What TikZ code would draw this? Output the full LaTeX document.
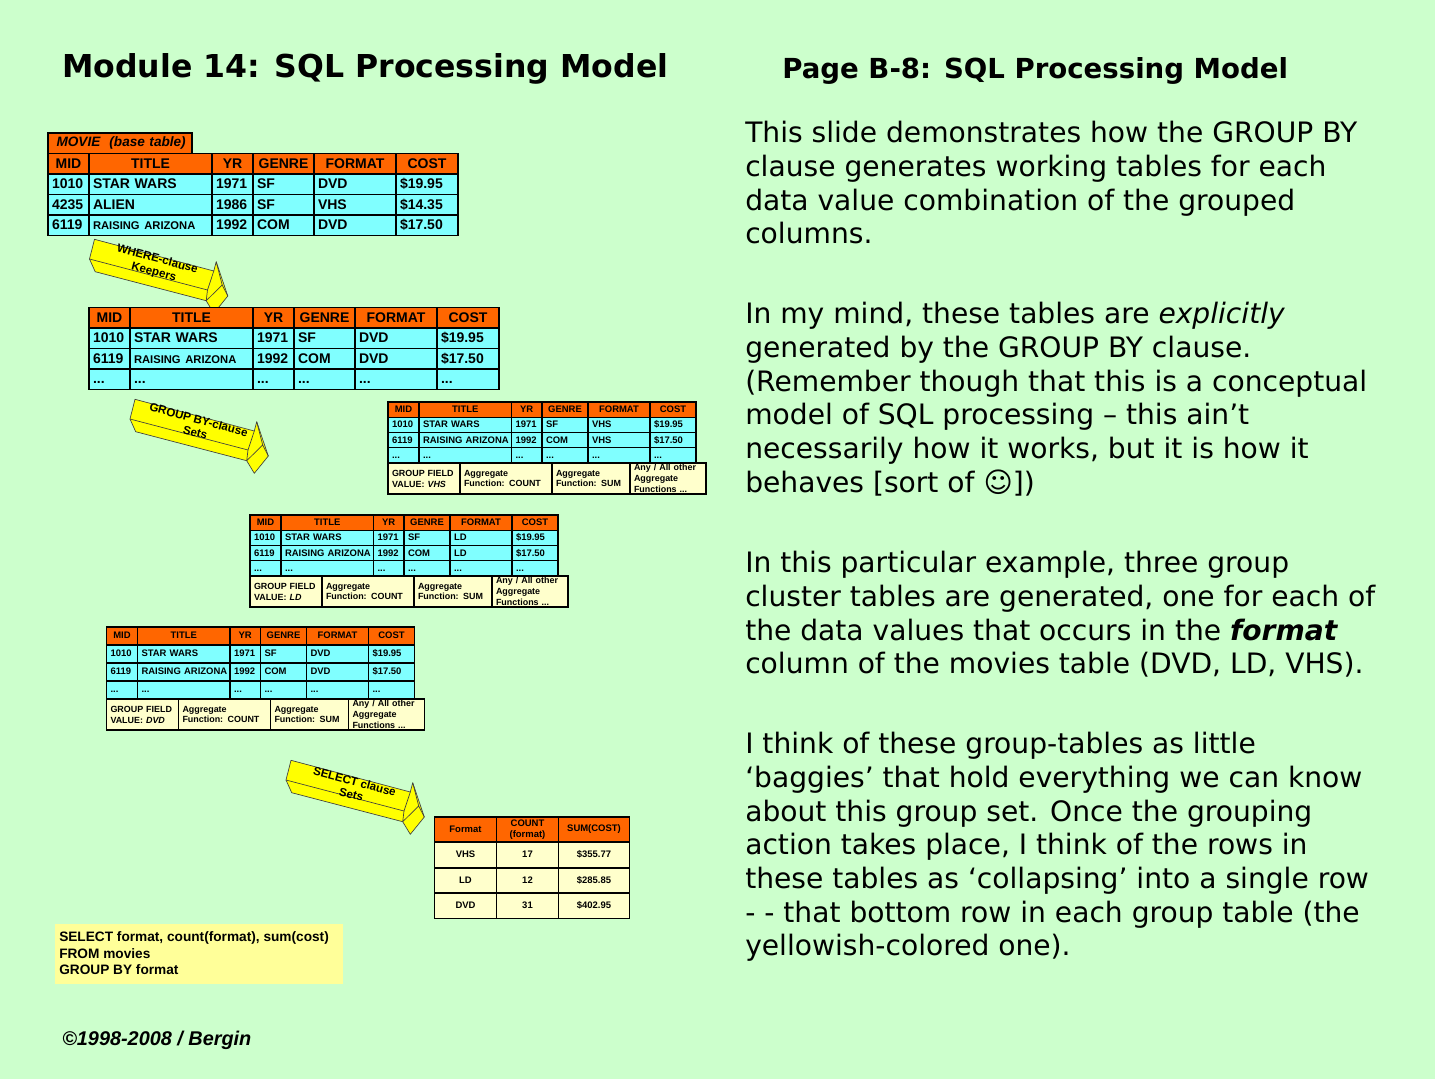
\documentclass[tikz,border=0pt]{standalone}
\usepackage{fontspec}
\setmainfont{Liberation Sans}
\newfontfamily\versefont{DejaVu Sans}
\usetikzlibrary{positioning,calc}
\definecolor{PageGreen}{RGB}{204,255,204}
\definecolor{HeadOrange}{RGB}{255,102,0}
\definecolor{RowCyan}{RGB}{128,255,255}
\definecolor{GroupCream}{RGB}{255,255,204}
\definecolor{QueryYellow}{RGB}{255,255,153}
\definecolor{ArrowYellow}{RGB}{255,255,0}
\tikzset{
	cell/.style={draw=black,line width=1.1pt,anchor=north west,outer sep=0pt,inner xsep=3pt,inner ysep=0pt,font=\bfseries},
	headcell/.style={cell,fill=HeadOrange,align=center},
	rowcell/.style={cell,fill=RowCyan,align=left},
	creamcell/.style={cell,fill=GroupCream,align=left},
	midcell/.style={cell,fill=GroupCream,align=center},
	bigtext/.style={font=\fontsize{10.5}{12}\selectfont\bfseries,text height=6.6pt,text depth=0pt},
	smalltext/.style={font=\fontsize{7.1}{8.2}\selectfont\bfseries,text height=4.3pt,text depth=0pt},
	title/.style={anchor=west,inner sep=0pt,font=\versefont\bfseries},
	verse/.style={anchor=north west,align=left,inner sep=0pt,font=\versefont\fontsize{21.1}{25.27}\selectfont},
	arrowface/.style={draw=black!75,line width=.5pt,fill=ArrowYellow,line join=round},
	arrowtext/.style={align=center,rotate=-15,inner sep=0pt,font=\fontsize{8.7}{9.9}\selectfont\bfseries},
}
\newcommand{\slimname}[1]{\fontsize{8.4}{10}\selectfont #1}
\newcommand{\moredots}{...}
\newcommand{\tablerow}[5]{%
	\begin{scope}[shift={(#2,#3)}]
	\foreach \a/\b/\t [count=\i] in {#5}
	\node[#4,minimum width={(\b-\a)*0.75pt},text width={(\b-\a)*0.75pt-6pt}] (#1-\i) at (\a,0) {\t};
	\end{scope}
}
\newcommand{\grouptable}[5]{%
	\tablerow{#1h}{#2}{#3}{headcell,smalltext,minimum height=#4*0.75pt}{0/31/MID,31/123.5/TITLE,123.5/154/YR,154/200/GENRE,200/262/FORMAT,262/308/COST}
	\tablerow{#1a}{#2}{#3+#4}{rowcell,smalltext,minimum height=#4*0.75pt}{0/31/1010,31/123.5/STAR WARS,123.5/154/1971,154/200/SF,200/262/#5,262/308/\$19.95}
	\tablerow{#1b}{#2}{#3+2*#4}{rowcell,smalltext,minimum height=#4*0.75pt}{0/31/6119,31/123.5/\mbox{RAISING ARIZONA},123.5/154/1992,154/200/COM,200/262/#5,262/308/\$17.50}
	\tablerow{#1c}{#2}{#3+3*#4}{rowcell,smalltext,minimum height=#4*0.75pt}{0/31/\moredots,31/123.5/\moredots,123.5/154/\moredots,154/200/\moredots,200/262/\moredots,262/308/\moredots}
	\begin{scope}[shift={(#2,#3+4*#4)},every node/.style={creamcell,font=\fontsize{6.7}{8.2}\selectfont\bfseries,minimum height=23.2pt}]
	\node[minimum width=54pt,text width=48pt] (#1g) at (0,0) {GROUP~FIELD\\VALUE: \textit{#5}};
	\node[minimum width=69pt,text width=63pt] (#1n) at (72,0) {Aggregate\\Function: COUNT};
	\node[minimum width=58.5pt,text width=52.5pt] (#1s) at (164,0) {Aggregate\\Function: SUM};
	\node[minimum width=57pt,text width=51pt] (#1o) at (242,0) {Any / All other\\Aggregate\\Functions ...};
	\end{scope}
}
\newcommand{\blockarrow}[6]{%
	\begin{scope}[shift={(#2,#3)}]
	\draw[arrowface] (10,4.3)--(129.3,36)--(131.7,26.7)--(143.3,61)--(129.3,78.3)--(121.7,65.7)--(10.7,36.7)--(5,24)--cycle;
	\draw[arrowface,fill=none] (5,24)--(123,55)--(121.7,65.7)--(137.7,50)--(143.3,61);
	\draw[arrowface,fill=none] (123,55)--(129.3,36);
	\draw[arrowface,fill=none] (131.7,26.7)--(137.7,50);
	\node[arrowtext] (#1) at (#4,#5) {#6};
	\end{scope}
}

\begin{document}
\begin{tikzpicture}[x=0.75pt,y=-0.75pt]
	\path[use as bounding box,fill=PageGreen] (0,0) rectangle (1435,1079);
	% headings
	\node[title,font=\versefont\bfseries\fontsize{23.67}{30}\selectfont] (modtitle) at (62,69) {Module 14: SQL Processing Model};
	\node[title,font=\versefont\bfseries\fontsize{20.7}{26}\selectfont] (pagetitle) at (782,71) {Page B-8: SQL Processing Model};
	% base table
	\node[headcell,anchor=north west,minimum width=108pt,minimum height=15.4pt,text width=102pt,align=left,font=\fontsize{10.2}{12}\selectfont\bfseries\itshape] (basename) at (48,133) {\ MOVIE\ \ (base table)};
	\tablerow{bh}{48}{153.5}{headcell,bigtext,minimum height=15.4pt}{0/41/MID,41/164/TITLE,164/205/YR,205/266/GENRE,266/348/FORMAT,348/410/COST}
	\tablerow{ba}{48}{174}{rowcell,bigtext,minimum height=15.4pt}{0/41/1010,41/164/STAR WARS,164/205/1971,205/266/SF,266/348/DVD,348/410/\$19.95}
	\tablerow{bb}{48}{194.5}{rowcell,bigtext,minimum height=15.4pt}{0/41/4235,41/164/ALIEN,164/205/1986,205/266/SF,266/348/VHS,348/410/\$14.35}
	\tablerow{bc}{48}{215}{rowcell,bigtext,minimum height=15.4pt}{0/41/6119,41/164/\slimname{RAISING ARIZONA},164/205/1992,205/266/COM,266/348/DVD,348/410/\$17.50}
	% arrows
	\blockarrow{wherelabel}{84.5}{235}{71}{31}{WHERE-clause\\Keepers}
	\blockarrow{grouplabel}{125}{395}{72}{31}{GROUP BY-clause\\Sets}
	\blockarrow{selectlabel}{281}{756}{72}{32}{SELECT clause\\Sets}
	% keepers
	\tablerow{kh}{89}{307.5}{headcell,bigtext,minimum height=15.4pt}{0/41/MID,41/164/TITLE,164/205/YR,205/266/GENRE,266/348/FORMAT,348/410/COST}
	\tablerow{ka}{89}{328}{rowcell,bigtext,minimum height=15.4pt}{0/41/1010,41/164/STAR WARS,164/205/1971,205/266/SF,266/348/DVD,348/410/\$19.95}
	\tablerow{kb}{89}{348.5}{rowcell,bigtext,minimum height=15.4pt}{0/41/6119,41/164/\slimname{RAISING ARIZONA},164/205/1992,205/266/COM,266/348/DVD,348/410/\$17.50}
	\tablerow{kc}{89}{369}{rowcell,bigtext,minimum height=15.4pt}{0/41/\moredots,41/164/\moredots,164/205/\moredots,205/266/\moredots,266/348/\moredots,348/410/\moredots}
	% group tables
	\grouptable{v}{388}{402}{15.25}{VHS}
	\grouptable{l}{250}{515}{15.25}{LD}
	\grouptable{d}{106.5}{627}{18}{DVD}
	% result table
	\tablerow{rh}{434.5}{817}{headcell,smalltext,minimum height=18.8pt,text height=,text depth=}{0/62/Format,62/124/COUNT\\(format),124/195/SUM(COST)}
	\tablerow{ra}{434.5}{842.5}{midcell,smalltext,minimum height=18.8pt}{0/62/VHS,62/124/17,124/195/\$355.77}
	\tablerow{rb}{434.5}{868}{midcell,smalltext,minimum height=18.8pt}{0/62/LD,62/124/12,124/195/\$285.85}
	\tablerow{rc}{434.5}{893.5}{midcell,smalltext,minimum height=18.8pt}{0/62/DVD,62/124/31,124/195/\$402.95}
	% query and footer
	\node[anchor=north west,fill=QueryYellow,minimum width=216pt,minimum height=45pt,inner sep=0pt] (querybox) at (55,924) {};
	\node[anchor=north west,inner sep=0pt,align=left,font=\fontsize{10.25}{12.4}\selectfont\bfseries] (query) at (59,931.5) {SELECT format, count(format), sum(cost)\\FROM movies\\GROUP BY format};
	\node[anchor=west,inner sep=0pt,font=\fontsize{14.9}{18}\selectfont\bfseries\itshape] (copy) at (62,1040) {©1998-2008 / Bergin};
	% notes
	\node[verse] (para1) at (745,121) {This slide demonstrates how the GROUP BY\\clause generates working tables for each\\data value combination of the grouped\\columns.};
	\node[verse] (para2) at (745,302) {In my mind, these tables are \textit{explicitly}\\generated by the GROUP BY clause.\\(Remember though that this is a conceptual\\model of SQL processing – this ain’t\\necessarily how it works, but it is how it\\behaves [sort of ☺])};
	\node[verse] (para3) at (745,551) {In this particular example, three group\\cluster tables are generated, one for each of\\the data values that occurs in the \textbf{\textit{format}}\\column of the movies table (DVD, LD, VHS).};
	\node[verse] (para4) at (745,732) {I think of these group-tables as little\\‘baggies’ that hold everything we can know\\about this group set. Once the grouping\\action takes place, I think of the rows in\\these tables as ‘collapsing’ into a single row\\- - that bottom row in each group table (the\\yellowish-colored one).};
\end{tikzpicture}
\end{document}
